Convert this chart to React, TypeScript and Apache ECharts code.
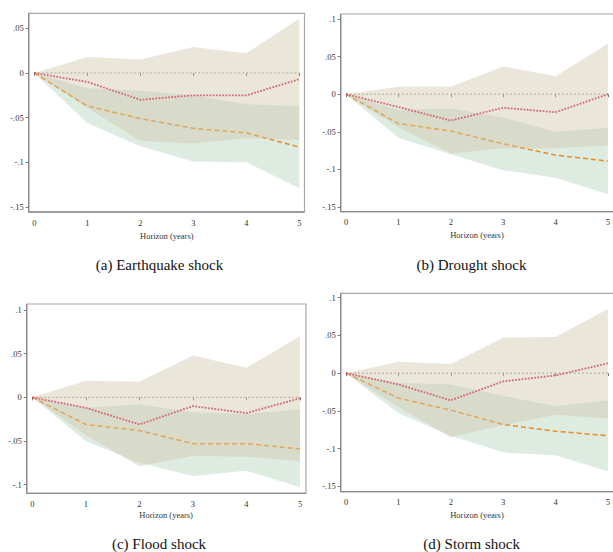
import React, { useEffect, useRef } from 'react';
import * as echarts from 'echarts';

const horizons = ['0', '1', '2', '3', '4', '5'];

// (a) Earthquake shock
const eqRed = [0, -0.010, -0.030, -0.025, -0.025, -0.007];
const eqRedUpper = [0, 0.018, 0.015, 0.029, 0.022, 0.061];
const eqRedLower = [0, -0.039, -0.076, -0.079, -0.073, -0.075];
const eqOrange = [0, -0.037, -0.051, -0.062, -0.067, -0.083];
const eqOrangeUpper = [0, -0.017, -0.020, -0.025, -0.035, -0.037];
const eqOrangeLower = [0, -0.056, -0.082, -0.099, -0.100, -0.129];

// (b) Drought shock
const drRed = [0, -0.017, -0.035, -0.018, -0.024, 0.000];
const drRedUpper = [0, 0.010, 0.010, 0.037, 0.024, 0.067];
const drRedLower = [0, -0.044, -0.079, -0.072, -0.072, -0.068];
const drOrange = [0, -0.039, -0.049, -0.066, -0.081, -0.089];
const drOrangeUpper = [0, -0.021, -0.019, -0.031, -0.050, -0.045];
const drOrangeLower = [0, -0.058, -0.080, -0.101, -0.111, -0.133];

// (c) Flood shock
const flRed = [0, -0.012, -0.031, -0.010, -0.018, -0.001];
const flRedUpper = [0, 0.019, 0.018, 0.048, 0.034, 0.070];
const flRedLower = [0, -0.043, -0.079, -0.067, -0.068, -0.073];
const flOrange = [0, -0.031, -0.038, -0.053, -0.053, -0.059];
const flOrangeUpper = [0, -0.012, -0.008, -0.017, -0.019, -0.014];
const flOrangeLower = [0, -0.050, -0.075, -0.090, -0.084, -0.103];

// (d) Storm shock
const stRed = [0, -0.015, -0.036, -0.011, -0.003, 0.013];
const stRedUpper = [0, 0.015, 0.012, 0.047, 0.048, 0.085];
const stRedLower = [0, -0.045, -0.085, -0.069, -0.055, -0.060];
const stOrange = [0, -0.033, -0.049, -0.068, -0.077, -0.083];
const stOrangeUpper = [0, -0.013, -0.015, -0.030, -0.044, -0.036];
const stOrangeLower = [0, -0.053, -0.083, -0.105, -0.109, -0.130];

const captions = ['(a) Earthquake shock', '(b) Drought shock', '(c) Flood shock', '(d) Storm shock'];
const xAxisTitle = 'Horizon (years)';

const panelData = [
  { red: eqRed, redUp: eqRedUpper, redLo: eqRedLower, or: eqOrange, orUp: eqOrangeUpper, orLo: eqOrangeLower },
  { red: drRed, redUp: drRedUpper, redLo: drRedLower, or: drOrange, orUp: drOrangeUpper, orLo: drOrangeLower },
  { red: flRed, redUp: flRedUpper, redLo: flRedLower, or: flOrange, orUp: flOrangeUpper, orLo: flOrangeLower },
  { red: stRed, redUp: stRedUpper, redLo: stRedLower, or: stOrange, orUp: stOrangeUpper, orLo: stOrangeLower },
];

// layout (pixels)
const layouts = [
  { x0: 34.3, x5: 299.3, yTop: 28.3, yBot: 207, yMin: -0.15, yMax: 0.05, L: 28.7, T: 13.3, R: 304.5, B: 212, nameGap: 19, capX: 159.5, capY: 264.5 },
  { x0: 346, x5: 610.7, yTop: 19, yBot: 207, yMin: -0.15, yMax: 0.1, L: 340.7, T: 14, R: 616, B: 211.7, nameGap: 19, capX: 471.5, capY: 264.5 },
  { x0: 32.3, x5: 300, yTop: 310, yBot: 484.7, yMin: -0.1, yMax: 0.1, L: 26.7, T: 304, R: 306, B: 493.3, nameGap: 17.5, capX: 159, capY: 543.5 },
  { x0: 346, x5: 610.7, yTop: 297.7, yBot: 486.3, yMin: -0.15, yMax: 0.1, L: 340.7, T: 293.3, R: 616, B: 491.7, nameGap: 19, capX: 471.7, capY: 543.5 },
];

const SERIF = '"Liberation Serif", "DejaVu Serif", serif';
const TAN = 'rgba(208,199,173,0.45)';
const GREEN = 'rgba(189,215,193,0.5)';
const RED = '#d81a4a';
const ORANGE = '#ec8a1c';

function fmtY(v: number): string {
  const r = Math.round(v * 100) / 100;
  if (r === 0) return '0';
  return String(r).replace('0.', '.');
}

function buildOption() {
  const grid: any[] = [];
  const xAxis: any[] = [];
  const yAxis: any[] = [];
  const series: any[] = [];
  const graphic: any[] = [];

  layouts.forEach((l, i) => {
    const d = panelData[i];
    grid.push({ left: l.x0, top: l.yTop, width: l.x5 - l.x0, height: l.yBot - l.yTop, containLabel: false });
    xAxis.push({
      type: 'category', gridIndex: i, data: horizons, boundaryGap: false,
      offset: l.B - l.yBot,
      axisLine: { show: false },
      axisTick: { show: true, length: 3, alignWithLabel: true, lineStyle: { color: '#777', width: 1 } },
      axisLabel: { fontFamily: SERIF, fontSize: 8.5, color: '#333', margin: 6, interval: 0 },
      splitLine: { show: false },
      name: xAxisTitle, nameLocation: 'middle', nameGap: l.nameGap,
      nameTextStyle: { fontFamily: SERIF, fontSize: 8.5, color: '#333' },
    });
    yAxis.push({
      type: 'value', gridIndex: i, min: l.yMin, max: l.yMax, interval: 0.05,
      offset: l.x0 - l.L,
      axisLine: { show: false },
      axisTick: { show: true, length: 3, lineStyle: { color: '#777', width: 1 } },
      axisLabel: { fontFamily: SERIF, fontSize: 8.5, color: '#333', margin: 5, formatter: fmtY },
      splitLine: { show: false },
    });

    const base = { type: 'line', xAxisIndex: i, yAxisIndex: i, showSymbol: false, symbol: 'none', silent: true, clip: false };
    // green band (orange CI)
    series.push({ ...base, z: 1, stack: 'grn' + i, stackStrategy: 'all', data: d.orLo, lineStyle: { width: 0, opacity: 0 } });
    series.push({ ...base, z: 1, stack: 'grn' + i, stackStrategy: 'all', data: d.orUp.map((u, k) => u - d.orLo[k]), lineStyle: { width: 0, opacity: 0 }, areaStyle: { color: GREEN, opacity: 1 } });
    // zero line
    series.push({ ...base, z: 2, data: horizons.map(() => 0), lineStyle: { color: '#888', width: 0.9, type: [2, 2] } });
    // orange dashed
    series.push({ ...base, z: 2, data: d.or, lineStyle: { color: ORANGE, width: 1.5, type: [5, 3] } });
    // red dotted
    series.push({ ...base, z: 2, data: d.red, lineStyle: { color: RED, width: 1.8, type: [1.8, 1.4] } });
    // tan band (red CI), drawn on top, translucent
    series.push({ ...base, z: 3, stack: 'tan' + i, stackStrategy: 'all', data: d.redLo, lineStyle: { width: 0, opacity: 0 } });
    series.push({ ...base, z: 3, stack: 'tan' + i, stackStrategy: 'all', data: d.redUp.map((u, k) => u - d.redLo[k]), lineStyle: { width: 0, opacity: 0 }, areaStyle: { color: TAN, opacity: 1 } });

    // frame
    graphic.push({ type: 'rect', shape: { x: l.L, y: l.T, width: l.R - l.L, height: l.B - l.T }, style: { fill: 'none', stroke: '#a8a8a8', lineWidth: 1.2 }, silent: true, z: 10 });
    graphic.push({ type: 'line', shape: { x1: l.L, y1: l.T, x2: l.L, y2: l.B }, style: { stroke: '#8a8a8a', lineWidth: 1.3 }, silent: true, z: 11 });
    graphic.push({ type: 'line', shape: { x1: l.L, y1: l.B, x2: l.R, y2: l.B }, style: { stroke: '#8a8a8a', lineWidth: 1.3 }, silent: true, z: 11 });
    // caption
    graphic.push({ type: 'text', x: l.capX, y: l.capY, style: { text: captions[i], fontFamily: SERIF, fontSize: 15, fill: '#111', align: 'center', verticalAlign: 'middle' }, silent: true, z: 11 });
  });

  return { animation: false, backgroundColor: '#fff', grid, xAxis, yAxis, series, graphic };
}

export default function App() {
  const ref = useRef<HTMLDivElement>(null);
  useEffect(() => {
    document.body.style.margin = '0';
    if (!ref.current) return;
    const chart = echarts.init(ref.current, undefined, { renderer: 'svg' });
    chart.setOption(buildOption());
    return () => chart.dispose();
  }, []);
  return <div ref={ref} style={{ position: 'absolute', left: 0, top: 0, width: 613, height: 552 }} />;
}
